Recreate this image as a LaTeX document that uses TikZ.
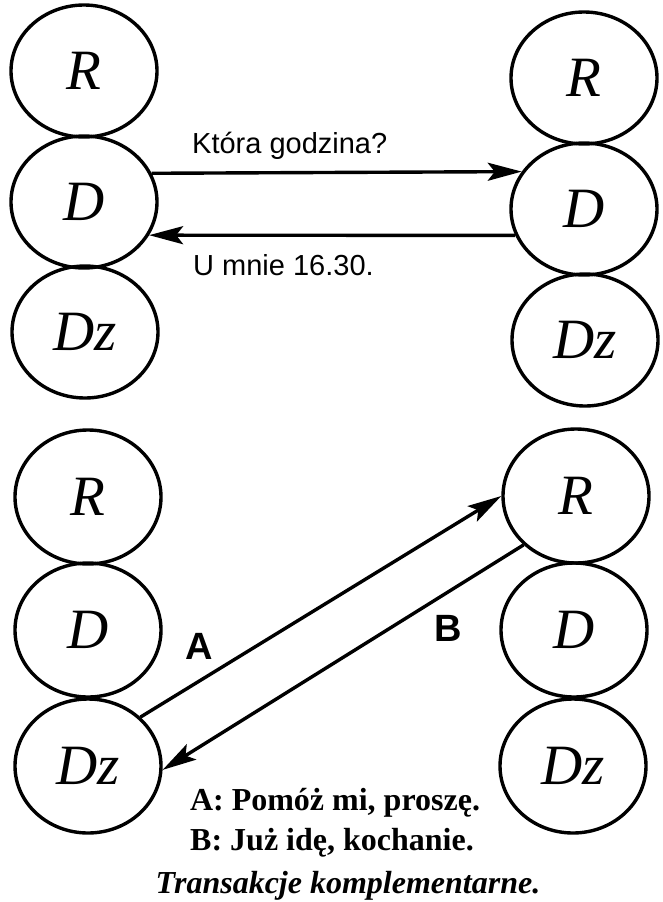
\documentclass[tikz,border=0pt]{standalone}
\usepackage{fontspec}
\setmainfont{Liberation Serif}
\newfontfamily\labelsans{Liberation Sans}
\usetikzlibrary{shapes.geometric,arrows.meta}

\tikzset{
  egostate/.style={ellipse, draw, line width=3.4pt, minimum width=146pt,
    minimum height=132pt, inner sep=0pt,
    font=\fontsize{57}{57}\selectfont\itshape},
  msg/.style={line width=3.4pt, -{Stealth[length=34pt,width=18pt,inset=7pt]}},
  speech/.style={font=\labelsans\fontsize{29}{29}\selectfont, inner sep=0pt,
    anchor=base west},
  tag/.style={font=\labelsans\bfseries\fontsize{38}{38}\selectfont, inner sep=0pt},
  caption/.style={font=\bfseries\fontsize{32}{32}\selectfont, inner sep=0pt,
    anchor=base}
}

\begin{document}
\begin{tikzpicture}[x=1pt,y=-1pt]
\useasboundingbox (0,0) rectangle (663,902);

% upper pair: parallel transaction D -> D
\node[egostate] (tlR)  at (84,71)  {R};
\node[egostate] (tlD)  at (84,202) {D};
\node[egostate] (tlDz) at (85,332) {Dz};
\node[egostate] (trR)  at (584,78)  {R};
\node[egostate] (trD)  at (584,209) {D};
\node[egostate] (trDz) at (585,340) {Dz};

\draw[msg] (tlD.23.8) -- (trD.149.5);
\draw[msg] (trD.201.2) -- (tlD.-27.6);
\node[speech] (q) at (192,153) {Która godzina?};
\node[speech] (a) at (193,275) {U mnie 16.30.};

% lower pair: complementary transaction Dz -> R, R -> Dz
\node[egostate, minimum height=134pt] (blR)  at (88,497) {R};
\node[egostate, minimum height=134pt] (blD)  at (88,630) {D};
\node[egostate, minimum height=134pt] (blDz) at (88,766) {Dz};
\node[egostate, minimum height=134pt] (brR)  at (576,496) {R};
\node[egostate, minimum height=134pt] (brD)  at (574,630) {D};
\node[egostate, minimum height=134pt] (brDz) at (573,766) {Dz};

\draw[msg] (blDz.43.3) -- (brR.west);
\draw[msg] (brR.223.2) -- (blDz.-3);
\node[tag] (tA) at (199,646) {A};
\node[tag] (tB) at (448,628) {B};

\node[caption] (c1) at (335,810) {A: Pomóż mi, proszę.};
\node[caption] (c2) at (332,850) {B: Już idę, kochanie.};
\node[caption, font=\bfseries\itshape\fontsize{32}{32}\selectfont] (c3) at (348,893) {Transakcje komplementarne.};
\end{tikzpicture}
\end{document}
